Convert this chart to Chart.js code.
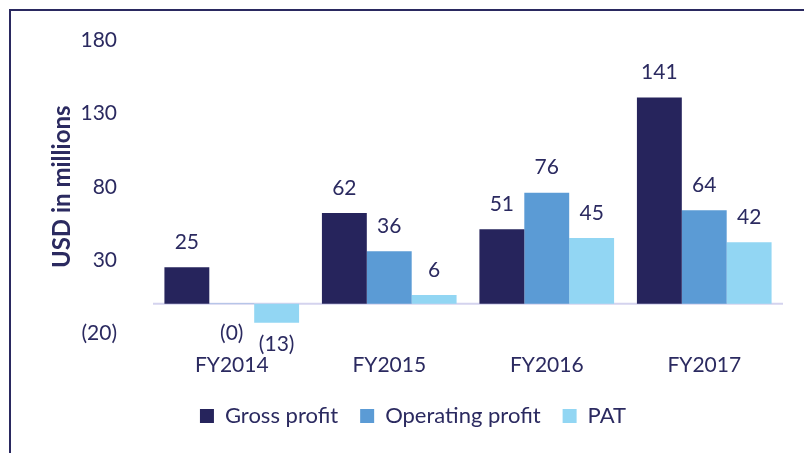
<!DOCTYPE html>
<html>
<head>
<meta charset="utf-8">
<script src="https://cdn.jsdelivr.net/npm/chart.js@4"></script>
<style>
    body { margin: 0; background: #fff; }
    #wrap { position: relative; width: 804px; height: 453px; overflow: hidden; }
    #frame { position: absolute; left: 9px; top: 9px; width: 900px; height: 500px;
             border-left: 2px solid #2a2960; border-top: 2px solid #2a2960; }
    canvas { position: absolute; left: 0; top: 0; }
</style>
</head>
<body>
<div id="wrap">
    <div id="frame"></div>
    <canvas id="chart" width="804" height="453"></canvas>
</div>
<script>
const years = ['FY2014', 'FY2015', 'FY2016', 'FY2017'];
const grossProfit = [25, 62, 51, 141];
const operatingProfit = [-0.2, 36, 76, 64];
const pat = [-13, 6, 45, 42];
const yTicks = [-20, 30, 80, 130, 180];

const textColor = '#2b2a60';
const font = { family: 'Lato', size: 21 };

function fmt(v) {
    let n = Math.round(Math.abs(v));
    return v < 0 ? '(' + n + ')' : '' + n;
}

// zero line + value labels
const extras = {
    id: 'extras',
    beforeDatasetsDraw(chart) {
        const ctx = chart.ctx;
        const y0 = chart.scales.y.getPixelForValue(0);
        ctx.save();
        ctx.strokeStyle = '#d4d3ee';
        ctx.lineWidth = 2;
        ctx.beginPath();
        ctx.moveTo(chart.chartArea.left, y0);
        ctx.lineTo(chart.chartArea.right, y0);
        ctx.stroke();
        ctx.restore();
    },
    afterDatasetsDraw(chart) {
        const ctx = chart.ctx;
        ctx.save();
        ctx.font = font.size + 'px ' + font.family;
        ctx.fillStyle = textColor;
        ctx.textAlign = 'center';
        ctx.textBaseline = 'middle';
        chart.data.datasets.forEach((ds, i) => {
            chart.getDatasetMeta(i).data.forEach((bar, j) => {
                let v = ds.data[j];
                let y = v < 0 ? bar.y + 21 : bar.y - 25;
                if (v < 0 && v > -1) y += 8;
                ctx.fillText(fmt(v), bar.x, y);
            });
        });
        ctx.restore();
    }
};

new Chart(document.getElementById('chart'), {
    type: 'bar',
    data: {
        labels: years,
        datasets: [
            { label: 'Gross profit', data: grossProfit, backgroundColor: '#26245c' },
            { label: 'Operating profit', data: operatingProfit, backgroundColor: '#5b9bd5' },
            { label: 'PAT', data: pat, backgroundColor: '#92d6f3' }
        ]
    },
    options: {
        responsive: false,
        animation: false,
        layout: { padding: { left: 43, right: 21, top: 39, bottom: 16 } },
        datasets: {
            bar: { barPercentage: 1, categoryPercentage: 0.855, borderWidth: 0 }
        },
        plugins: {
            legend: {
                position: 'bottom',
                labels: {
                    color: textColor,
                    font: { family: 'Lato', size: 22 },
                    boxWidth: 14,
                    boxHeight: 14,
                    padding: 22
                }
            },
            tooltip: { enabled: false }
        },
        scales: {
            x: {
                grid: { display: false },
                border: { display: false },
                ticks: { color: textColor, font: font, padding: 12 },
                afterFit(scale) { scale.height = 50; }
            },
            y: {
                min: yTicks[0],
                max: yTicks[yTicks.length - 1],
                grid: { display: false },
                border: { display: false },
                afterBuildTicks(scale) { scale.ticks = yTicks.map(v => ({ value: v })); },
                ticks: {
                    color: textColor,
                    font: font,
                    padding: 28,
                    callback: v => fmt(v)
                },
                title: {
                    display: true,
                    text: 'USD in millions',
                    color: textColor,
                    font: { family: 'Lato', size: 24, weight: 'bold' },
                    padding: { top: 5, bottom: 0 }
                },
                afterFit(scale) { scale.width = 110; }
            }
        }
    },
    plugins: [extras]
});
</script>
</body>
</html>
